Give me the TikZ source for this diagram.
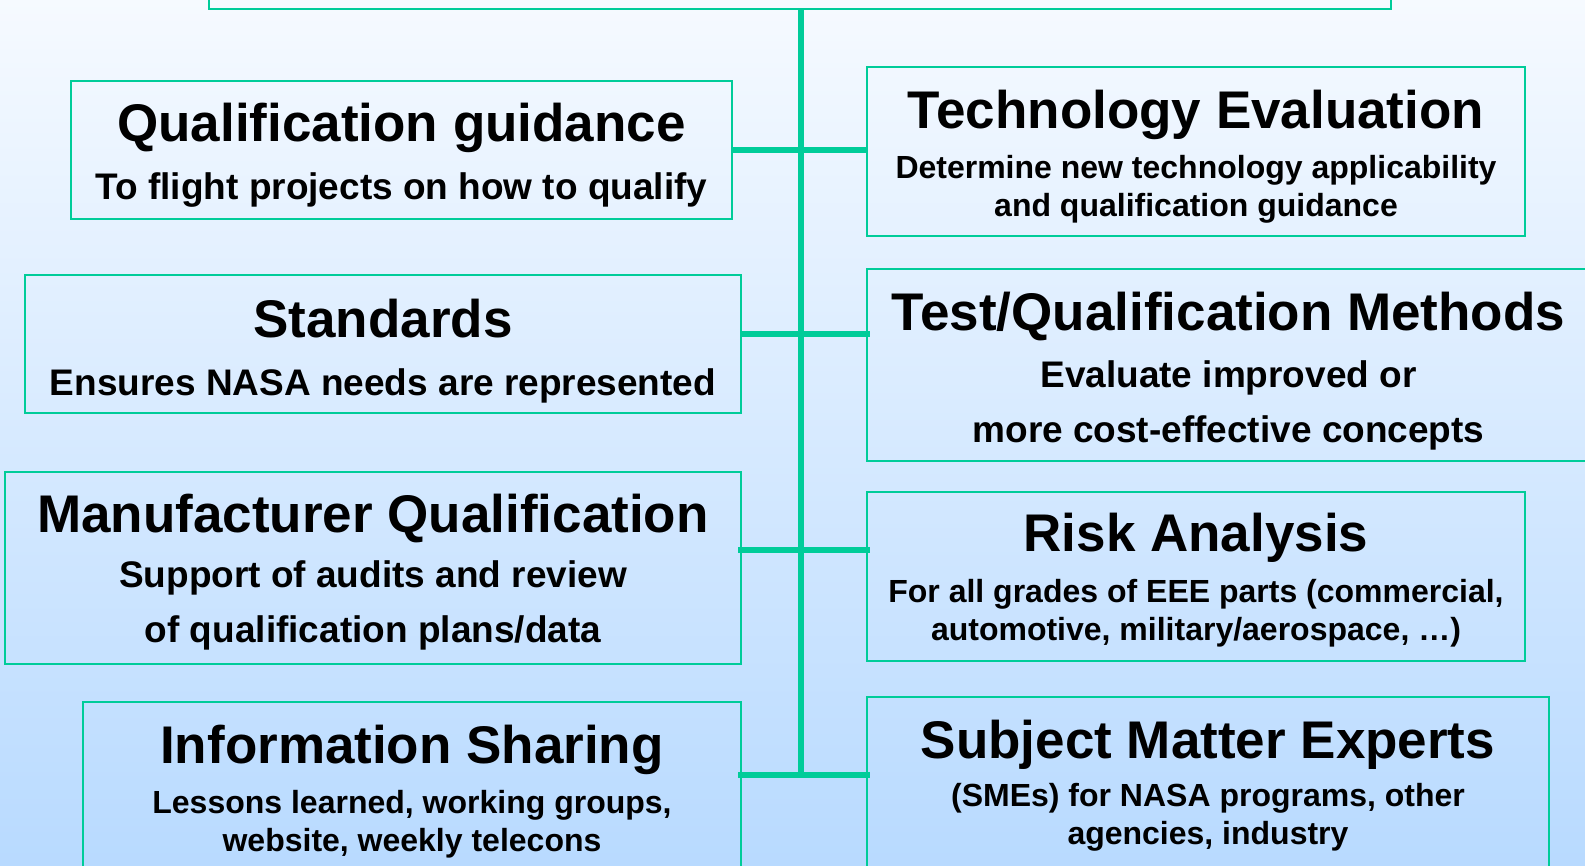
\documentclass[tikz,border=0pt]{standalone}
\usepackage{fontspec}
\setmainfont{Liberation Sans}
\usepackage{tikz}
\usetikzlibrary{positioning, calc}
\definecolor{QAGreen}{RGB}{0, 204, 153}
\definecolor{QASkyTop}{RGB}{246, 250, 255}
\definecolor{QASkyBottom}{RGB}{184, 218, 255}

% large first line of every box
\newcommand{\boxtitle}[1]{{\fontsize{26.5}{32}\selectfont #1}}

\begin{document}
\begin{tikzpicture}[x=0.5pt, y=-0.5pt,
  panel/.style={draw=QAGreen, line width=1pt, inner sep=0pt},
  link/.style={draw=QAGreen, line width=3pt},
  words/.style={anchor=base, align=center, inner sep=0pt},
  bigsub/.style={words, font=\bfseries\fontsize{18.5}{27.5}\selectfont},
  smallsub/.style={words, font=\bfseries\fontsize{16}{19}\selectfont}]

  % page and sky
  \useasboundingbox (0,0) rectangle (1585,866);
  \clip (0,0) rectangle (1585,866);
  \shade[top color=QASkyTop, bottom color=QASkyBottom] (0,0) rectangle (1585,866);

  % frames
  \node[panel, minimum width=591pt, minimum height=34.5pt] (hub) at (800,-25.5) {};
  \node[panel, minimum width=330.5pt, minimum height=69pt] (qual) at (401.5,150) {};
  \node[panel, minimum width=329pt, minimum height=84.5pt] (techeval) at (1196,151.5) {};
  \node[panel, minimum width=358pt, minimum height=69pt] (standards) at (383,344) {};
  \node[panel, minimum width=361.5pt, minimum height=96pt] (testmeth) at (1228.5,365) {};
  \node[panel, minimum width=368pt, minimum height=96pt] (mfrqual) at (373,568) {};
  \node[panel, minimum width=329pt, minimum height=84.5pt] (risk) at (1196,576.5) {};
  \node[panel, minimum width=329pt, minimum height=86pt] (infoshare) at (412,788) {};
  \node[panel, minimum width=341pt, minimum height=85.5pt] (sme) at (1208,782.5) {};

  % spine and branches
  \coordinate (spine) at (801,777);
  \coordinate (j1) at (801,150);
  \coordinate (j2) at (801,334);
  \coordinate (j3) at (801,550);
  \coordinate (j4) at (801,775);
  \draw[link] (hub.south -| spine) -- (spine);
  \draw[link] (j1 -| qual.east) -- (j1 -| techeval.west);
  \draw[link, shorten >=-2pt] (j2 -| standards.east) -- (j2 -| testmeth.west);
  \draw[link, shorten <=-2pt, shorten >=-2pt] (j3 -| mfrqual.east) -- (j3 -| risk.west);
  \draw[link, shorten <=-2pt, shorten >=-2pt] (j4 -| infoshare.east) -- (j4 -| sme.west);

  % texts, each placed at the baseline of its last line
  \node[bigsub] (qual-txt) at (401.5,199.7)
    {\boxtitle{Qualification guidance}\\[1.5pt] To flight projects on how to qualify};
  \node[smallsub] (techeval-txt) at (1196,216.3)
    {\boxtitle{Technology Evaluation}\\[6pt] Determine new technology applicability\\ and qualification guidance};
  \node[bigsub] (standards-txt) at (383,395)
    {\boxtitle{Standards}\\[1.5pt] Ensures NASA needs are represented};
  \node[bigsub] (testmeth-txt) at (1228.5,442.3)
    {\boxtitle{Test/Qualification Methods}\\[1pt] Evaluate improved or\\ more cost-effective concepts};
  \node[bigsub] (mfrqual-txt) at (373,642.5)
    {\boxtitle{Manufacturer Qualification}\\[0pt] Support of audits and review\\ of qualification plans/data};
  \node[smallsub] (risk-txt) at (1196,640.7)
    {\boxtitle{Risk Analysis}\\[6.5pt] For all grades of EEE parts (commercial,\\ automotive, military/aerospace, \dots)};
  \node[smallsub] (infoshare-txt) at (412,851.3)
    {\boxtitle{Information Sharing}\\[6pt] Lessons learned, working groups,\\ website, weekly telecons};
  \node[smallsub] (sme-txt) at (1208,844.3)
    {\boxtitle{Subject Matter Experts}\\[5pt] (SMEs) for NASA programs, other\\ agencies, industry};
\end{tikzpicture}
\end{document}
